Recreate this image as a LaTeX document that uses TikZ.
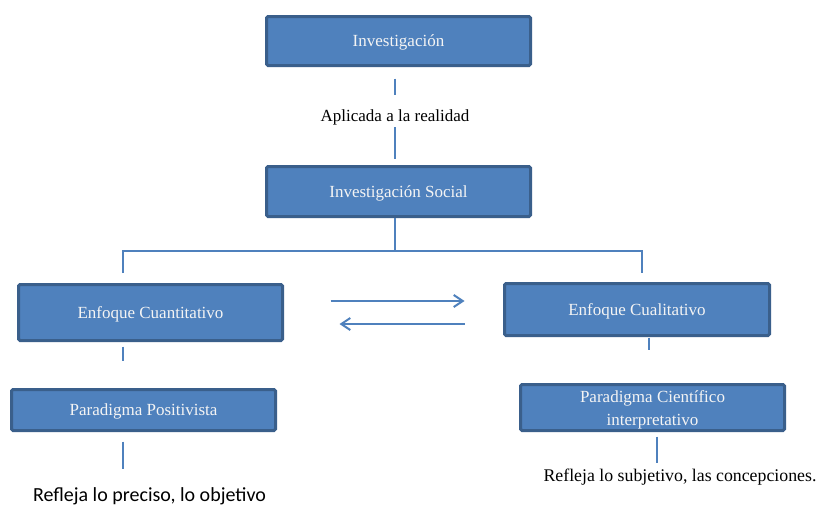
\documentclass[tikz,border=0pt]{standalone}
\usepackage{fontspec}
\setmainfont{Liberation Serif}
\newfontfamily\calib{Carlito}
\usetikzlibrary{arrows.meta}
\definecolor{boxfill}{HTML}{4F81BD}
\definecolor{boxedge}{HTML}{3A5F8B}
\definecolor{boxtext}{HTML}{F4F4F4}
\tikzset{
  boxnode/.style={draw=boxedge, fill=boxfill, line width=3pt, rounded corners=1.5pt,
    text=boxtext, font=\fontsize{17}{23}\selectfont, inner sep=0pt, align=center,
    text height=12pt, text depth=1pt},
  conn/.style={draw=boxfill, line width=2pt},
  arr/.style={conn, -{Straight Barb[length=9pt,width=12pt]}},
  plainlabel/.style={inner sep=0pt, text=black, font=\fontsize{17}{20}\selectfont, text height=12pt, text depth=3.8pt},
}
\begin{document}
\begin{tikzpicture}[x=1pt,y=-1pt]
\useasboundingbox (0,0) rectangle (819,506);
\fill[white] (0,0) rectangle (819,506);
% boxes
\node[boxnode, minimum width=264pt, minimum height=49pt] (inv) at (398.5,41) {Investigación};
\node[plainlabel] (apl) at (395,117) {Aplicada a la realidad};
\node[boxnode, minimum width=264pt, minimum height=50pt] (invs) at (398.5,191.5) {Investigación Social};
\node[boxnode, minimum width=264pt, minimum height=56pt] (cuan) at (150.5,312.5) {Enfoque Cuantitativo};
\node[boxnode, minimum width=265pt, minimum height=52pt] (cual) at (637,309.5) {Enfoque Cualitativo};
\node[boxnode, minimum width=264pt, minimum height=41pt] (pos) at (143.5,410) {Paradigma Positivista};
\node[boxnode, minimum width=264pt, minimum height=46pt, text height=, text depth=] (cie) at (652.5,407.5) {\rule{0pt}{16pt}Paradigma Científico\\interpretativo};
\node[inner sep=0pt, font=\calib\fontsize{20}{24}\selectfont, text height=14pt, text depth=5pt] (ref1) at (149.5,496.5) {Refleja lo preciso, lo objetivo};
\node[plainlabel, font=\fontsize{17.8}{20}\selectfont, text height=12.5pt, text depth=4pt] (ref2) at (680,477.5) {Refleja lo subjetivo, las concepciones.};
% coordinates
\coordinate (bar) at (395,251);
\coordinate (lx) at (123,251);
\coordinate (rx) at (642,251);
\coordinate (cx) at (649,0);
\coordinate (px) at (657,0);
\coordinate (r1) at (0,301);
\coordinate (r2) at (0,324);
% connectors
\draw[conn, shorten <=11.5pt, shorten >=14pt] (inv.south -| apl) -- (apl.north);
\draw[conn, shorten <=2pt, shorten >=6.5pt] (apl.south) -- (invs.north -| apl);
\draw[conn] (invs.south -| bar) -- (bar);
\draw[conn, shorten <=10pt, shorten >=9pt] (cuan.north -| lx) |- (rx) -- (cual.north -| rx);
\draw[arr, shorten <=46.5pt, shorten >=38.5pt] (cuan.east |- r1) -- (cual.west |- r1);
\draw[arr, shorten <=38.5pt, shorten >=55.5pt] (cual.west |- r2) -- (cuan.east |- r2);
\draw[conn, shorten <=4.5pt, shorten >=27.5pt] (cuan.south -| lx) -- (pos.north -| lx);
\draw[conn, shorten <=0.5pt, shorten >=33.5pt] (cual.south -| cx) -- (cie.north -| cx);
\draw[conn, shorten <=9.5pt, shorten >=18pt] (pos.south -| lx) -- (ref1.north -| lx);
\draw[conn, shorten <=4.5pt, shorten >=6.25pt] (cie.south -| px) -- (ref2.north -| px);
\end{tikzpicture}
\end{document}
